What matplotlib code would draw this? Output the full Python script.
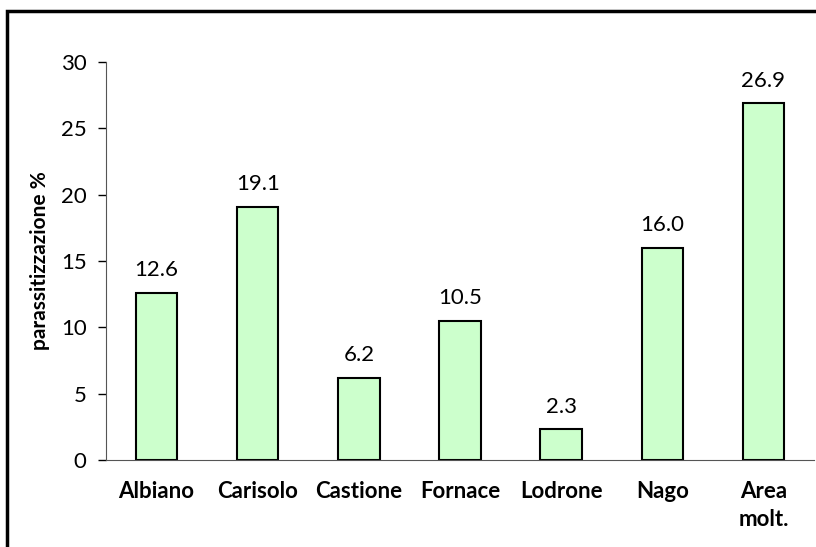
import matplotlib.pyplot as plt
from matplotlib.patches import Rectangle
import numpy as np

plt.rcParams['font.family'] = ['Lato', 'DejaVu Sans']

categories = ['Albiano', 'Carisolo', 'Castione', 'Fornace', 'Lodrone', 'Nago', 'Area\nmolt.']
values = [12.6, 19.1, 6.2, 10.5, 2.3, 16.0, 26.9]
yticks = [0, 5, 10, 15, 20, 25, 30]

fig = plt.figure(figsize=(8.16, 5.47), dpi=100)
ax = fig.add_axes([106/816, 1 - 460/547, (814-106)/816, (460-62)/547])

x = np.arange(len(categories))
ax.bar(x, values, width=0.41, color='#ccffcc', edgecolor='black', linewidth=1.5, zorder=2)
for xi, v in zip(x, values):
    ax.annotate('%.1f' % v, (xi, v), xytext=(0, 9), textcoords='offset points',
                ha='center', va='bottom', fontsize=16)

ax.set_xlim(-0.5, len(categories) - 0.5)
ax.set_ylim(0, 30)
ax.set_yticks(yticks)
ax.set_xticks(x)
ax.set_xticklabels(categories, fontsize=16, fontweight='bold', linespacing=1.45, va='top')
ax.tick_params(axis='y', labelsize=16, length=6, width=1, direction='out', pad=8)
ax.tick_params(axis='x', length=0, pad=15)
ax.set_ylabel('parassitizzazione %', fontsize=15, fontweight='bold', labelpad=8)

ax.spines['right'].set_color('none')
ax.spines['top'].set_color('none')
ax.spines['left'].set_color('#555555')
ax.spines['bottom'].set_color('#555555')

# chart frame
fig.patches.append(Rectangle((6.5/816, -0.1), 1.2, 1 - 10.5/547 + 0.1, transform=fig.transFigure,
                             fill=False, edgecolor='black', linewidth=2.5))

fig.savefig('out.png', dpi=100)
